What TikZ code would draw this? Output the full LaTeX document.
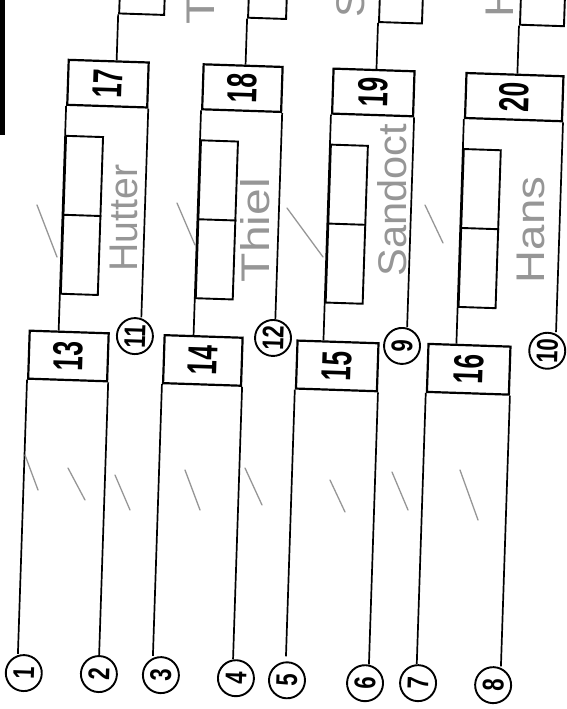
\documentclass[tikz,border=0pt]{standalone}
\usepackage{fontspec}
\setmainfont{Liberation Sans}
\usepackage{graphicx}
\usetikzlibrary{positioning, calc}
\definecolor{pencil}{RGB}{150,150,150}
\newcommand{\cellnum}[1]{\rotatebox{90}{\scalebox{0.63}[1]{\fontsize{42}{42}\selectfont\bfseries #1}}}
\newcommand{\seednum}[1]{\rotatebox{90}{\scalebox{0.74}[1]{\fontsize{30}{30}\selectfont\bfseries #1}}}
\newcommand{\handname}[2]{\rotatebox{90}{\scalebox{#1}[1]{\fontsize{40}{40}\selectfont #2}}}

\begin{document}
\begin{tikzpicture}[
  x=1pt, y=-1pt,
  cell/.style={draw, line width=2.2pt, inner sep=0pt, anchor=north west},
  seed/.style={draw, circle, line width=1.9pt, minimum size=36pt, inner sep=0pt},
  slot/.style={draw, line width=1.9pt, minimum width=37pt, minimum height=158pt, inner sep=0pt},
  topslot/.style={draw, line width=1.9pt, minimum height=100pt, inner sep=0pt, anchor=south west},
  wire/.style={line width=1.7pt},
  pen/.style={pencil, line width=1.3pt, line cap=round},
  hand/.style={text=pencil, inner sep=0pt}
]
\useasboundingbox (0,0) rectangle (566,709);
\clip (0,0) rectangle (566,709);
\fill (0,0) rectangle (5,135);

\begin{scope}[rotate around={-1.9:(283,354)}, transform shape]
% first round
\node[cell, minimum width=79pt, minimum height=48pt] (b13) at (28,338) {\cellnum{13}};
\node[cell, minimum width=78pt, minimum height=48pt] (b14) at (163,338) {\cellnum{14}};
\node[cell, minimum width=81pt, minimum height=48pt] (b15) at (296,339) {\cellnum{15}};
\node[cell, minimum width=82pt, minimum height=48pt] (b16) at (427,338) {\cellnum{16}};
% second round
\node[cell, minimum width=80pt, minimum height=45pt] (b17) at (58,66) {\cellnum{17}};
\node[cell, minimum width=79pt, minimum height=45pt] (b18) at (193,66) {\cellnum{18}};
\node[cell, minimum width=81pt, minimum height=45pt] (b19) at (323,66) {\cellnum{19}};
\node[cell, minimum width=97pt, minimum height=45pt] (b20) at (456,66) {\cellnum{20}};
% seeds
\node[seed] (c1) at (34.5,681.5) {\seednum{1}};
\node[seed] (c2) at (109.6,680) {\seednum{2}};
\node[seed] (c3) at (171.6,679) {\seednum{3}};
\node[seed] (c4) at (246.7,679.6) {\seednum{4}};
\node[seed] (c5) at (297.8,680) {\seednum{5}};
\node[seed] (c6) at (375.9,680.3) {\seednum{6}};
\node[seed] (c7) at (428.9,678.5) {\seednum{7}};
\node[seed] (c8) at (504,678) {\seednum{8}};
\node[seed] (c11) at (134.4,341) {\seednum{11}};
\node[seed] (c12) at (272.5,338.3) {\seednum{12}};
\node[seed] (c9) at (401.7,342) {\seednum{9}};
\node[seed] (c10) at (547,342) {\seednum{10}};
% name slots
\foreach \m in {17,18,19,20} {
  \node[slot, below=29pt of b\m.south west, anchor=north west] (s\m) {};
  \draw[line width=1.9pt] (s\m.west) -- (s\m.east);
}
% next round, cut off
\node[topslot, minimum width=45pt] (r17) at (107,20) {};
\node[topslot, minimum width=38pt] (r18) at (236,20) {};
\node[topslot, minimum width=43pt] (r19) at (367,20) {};
\node[topslot, minimum width=44pt] (r20) at (508,18) {};

\foreach \b/\c/\d/\g in {13/1/2/0pt, 14/3/4/0pt, 15/5/6/5pt, 16/7/8/0pt} {
  \draw[wire, shorten >=\g] (b\b.south west) -- ($(b\b.south west)!(c\c.north)!(b\b.north west)$);
  \draw[wire] (b\b.south east) -- ($(b\b.south east)!(c\d.north)!(b\b.north east)$);
}
\foreach \m/\p/\q in {17/13/11, 18/14/12, 19/15/9, 20/16/10} {
  \draw[wire] (b\m.south west) -- ($(b\m.south west)!(b\p.north)!(b\m.north west)$);
  \draw[wire] (b\m.south east) -- ($(b\m.south east)!(c\q.north)!(b\m.north east)$);
  \draw[wire] (r\m.south west) -- ($(b\m.north west)!(r\m.south west)!(b\m.north east)$);
}
\end{scope}

% pencil marks
\node[hand] (hHutter) at (124,218) {\handname{0.98}{Hutter}};
\node[hand] (hThiel) at (255,230) {\handname{1.2}{Thiel}};
\node[hand] (hSand) at (392,200) {\handname{1.04}{Sandoct}};
\node[hand] (hHans) at (531,230) {\handname{1.14}{Hans}};
\node[hand, anchor=south] (tThiel) at (200,25) {\handname{1.2}{Thiel}};
\node[hand, anchor=south] (tSand) at (350,18) {\handname{1.04}{Sandoct}};
\node[hand, anchor=south] (tHans) at (500,18) {\handname{1.14}{Hans}};
\draw[pen] (37,205) -- (57,257);
\draw[pen] (177,203) -- (195,245);
\draw[pen] (287,208) -- (323,257);
\draw[pen] (425,205) -- (443,243);
\draw[pen] (25,455) -- (38,490);
\draw[pen] (68,468) -- (85,500);
\draw[pen] (115,475) -- (130,510);
\draw[pen] (185,470) -- (200,510);
\draw[pen] (245,468) -- (262,505);
\draw[pen] (330,480) -- (345,512);
\draw[pen] (392,472) -- (408,510);
\draw[pen] (460,470) -- (478,520);
\end{tikzpicture}
\end{document}
